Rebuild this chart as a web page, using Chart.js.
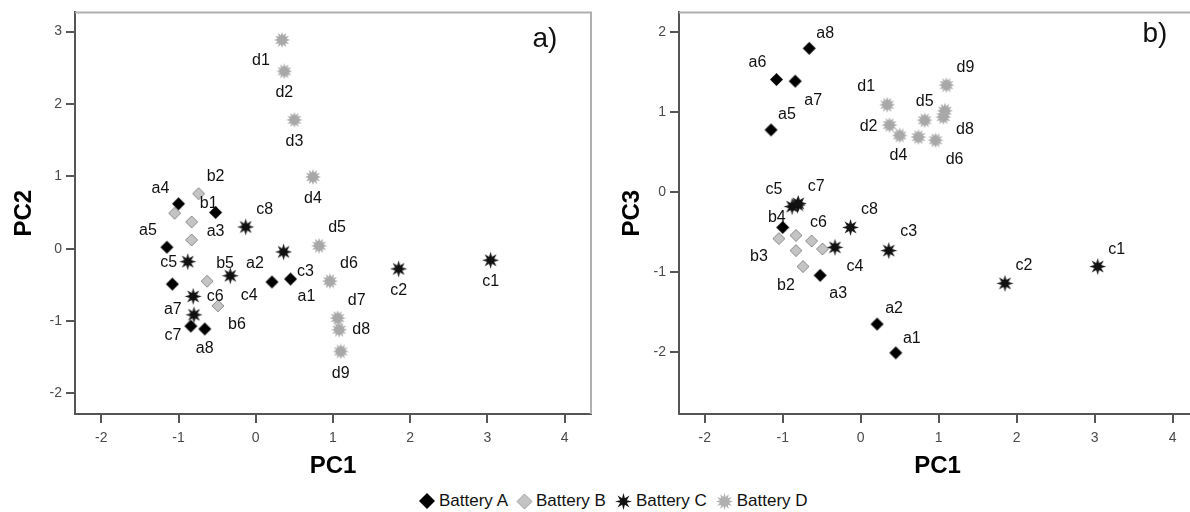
<!DOCTYPE html>
<html lang="en">
<head>
<meta charset="UTF-8">
<title>PCA score plots</title>
<script src="https://cdn.jsdelivr.net/npm/chart.js"></script>
<style>
    body {
        margin: 0;
        background: #ffffff;
        font-family: "Liberation Sans", Arial, sans-serif;
        overflow: hidden;
    }
    #wrap { position: relative; width: 1190px; height: 512px; overflow: hidden; }
    .panel { position: absolute; top: 0; width: 600px; height: 484px; }
    #legend {
        position: absolute; left: 418px; top: 491px;
        display: flex; align-items: center;
        font-size: 17px; color: #111; white-space: nowrap;
    }
    #legend .item { display: flex; align-items: center; margin-right: 8px; }
    #legend canvas { margin-right: 3px; }
</style>
</head>
<body>
<div id="wrap">
    <div class="panel" style="left:0"><canvas id="chartA"></canvas></div>
    <div class="panel" style="left:605px"><canvas id="chartB"></canvas></div>
    <div id="legend"></div>
</div>

<script>
    // scores (PC1 is shared by both panels)
    const seriesNames = ['Battery A', 'Battery B', 'Battery C', 'Battery D'];

    const idsA = ['a1', 'a2', 'a3', 'a4', 'a5', 'a6', 'a7', 'a8'];
    const pc1A = [0.45, 0.21, -0.52, -1.00, -1.15, -1.08, -0.84, -0.66];
    const pc2A = [-0.42, -0.46, 0.50, 0.62, 0.02, -0.49, -1.07, -1.11];
    const pc3A = [-2.01, -1.65, -1.04, -0.44, 0.78, 1.41, 1.39, 1.80];

    const idsB = ['b1', 'b2', 'b3', 'b4', 'b5', 'b6'];
    const pc1B = [-0.83, -0.74, -0.83, -1.05, -0.63, -0.49];
    const pc2B = [0.37, 0.76, 0.12, 0.49, -0.45, -0.79];
    const pc3B = [-0.54, -0.93, -0.73, -0.58, -0.61, -0.71];

    const idsC = ['c1', 'c2', 'c3', 'c4', 'c5', 'c6', 'c7', 'c8'];
    const pc1C = [3.04, 1.85, 0.36, -0.33, -0.88, -0.81, -0.80, -0.13];
    const pc2C = [-0.16, -0.28, -0.045, -0.375, -0.18, -0.66, -0.915, 0.30];
    const pc3C = [-0.93, -1.14, -0.73, -0.69, -0.18, -0.16, -0.14, -0.44];

    const idsD = ['d1', 'd2', 'd3', 'd4', 'd5', 'd6', 'd7', 'd8', 'd9'];
    const pc1D = [0.34, 0.37, 0.50, 0.74, 0.82, 0.96, 1.06, 1.08, 1.10];
    const pc2D = [2.885, 2.45, 1.78, 0.99, 0.04, -0.45, -0.96, -1.12, -1.42];
    const pc3D = [1.095, 0.84, 0.71, 0.69, 0.90, 0.65, 0.94, 1.02, 1.34];

    // where each point's name sits, relative to the marker (px)
    const labelPosA = {
        a1: [16, 18], a2: [-17, -18], a3: [0, 19], a4: [-18, -15], a5: [-19, -17], a7: [-18, -16], a8: [0, 20],
        b1: [17, -18], b2: [17, -17], b5: [18, -18], b6: [19, 19],
        c1: [0, 21], c2: [0, 22], c3: [22, 20], c4: [19, 20], c5: [-19, 1], c6: [22, 0], c7: [-21, 21], c8: [19, -17],
        d1: [-21, 21], d2: [0, 21], d3: [0, 22], d4: [0, 22], d5: [18, -18], d6: [19, -18], d7: [19, -18], d8: [22, 0], d9: [0, 22]
    };
    const labelPosB = {
        a1: [16, -14], a2: [17, -15], a3: [18, 18], a5: [16, -15], a6: [-19, -17], a7: [18, 19], a8: [16, -15],
        b2: [-17, 19], b3: [-37, 6], b4: [-2, -21],
        c1: [19, -17], c2: [19, -18], c3: [20, -19], c4: [20, 19], c5: [-18, -17], c6: [21, 18], c7: [18, -17], c8: [19, -18],
        d1: [-21, -18], d2: [-21, 2], d4: [-20, 19], d5: [0, -19], d6: [19, 19], d8: [20, 19], d9: [19, -18]
    };

    const FONT = '"Liberation Sans", Arial, sans-serif';

    function diamond(size, fill, stroke) {
        const c = document.createElement('canvas');
        c.width = c.height = size + 2;
        const g = c.getContext('2d');
        const m = (size + 2) / 2, r = size / 2;
        g.beginPath();
        g.moveTo(m, m - r); g.lineTo(m + r, m); g.lineTo(m, m + r); g.lineTo(m - r, m);
        g.closePath();
        g.fillStyle = fill;
        g.fill();
        if (stroke) { g.strokeStyle = stroke; g.lineWidth = 1; g.stroke(); }
        return c;
    }

    function star(size, spikes, innerRatio, color) {
        const c = document.createElement('canvas');
        c.width = c.height = size + 2;
        const g = c.getContext('2d');
        const m = (size + 2) / 2, R = size / 2, r = R * innerRatio;
        g.beginPath();
        for (let i = 0; i < spikes * 2; i++) {
            const ang = -Math.PI / 2 + i * Math.PI / spikes;
            const rad = i % 2 === 0 ? R : r;
            g.lineTo(m + rad * Math.cos(ang), m + rad * Math.sin(ang));
        }
        g.closePath();
        g.fillStyle = color;
        g.fill();
        return c;
    }

    const markers = [
        diamond(13, '#000000'),
        diamond(12, '#c4c4c4', '#8c8c8c'),
        star(17, 8, 0.45, '#111111'),
        star(16, 12, 0.58, '#a8a8a8')
    ];
    const legendMarkers = [
        diamond(16, '#000000'),
        diamond(15, '#c4c4c4', '#a0a0a0'),
        star(17, 8, 0.42, '#111111'),
        star(17, 12, 0.55, '#b0b0b0')
    ];

    function points(xs, ys) {
        return xs.map((x, i) => ({ x: x, y: ys[i] }));
    }

    const pointLabels = {
        id: 'pointLabels',
        afterDatasetsDraw(chart, args, opts) {
            const ctx = chart.ctx;
            ctx.save();
            ctx.font = '16px ' + FONT;
            ctx.fillStyle = '#111';
            ctx.textAlign = 'center';
            ctx.textBaseline = 'middle';
            chart.data.datasets.forEach((ds, i) => {
                const meta = chart.getDatasetMeta(i);
                ds.ids.forEach((id, j) => {
                    const off = opts.pos[id];
                    if (!off) return;
                    const p = meta.data[j];
                    ctx.fillText(id, p.x + off[0], p.y + off[1]);
                });
            });
            ctx.restore();
        }
    };

    // light top/right frame and the panel letter
    const frame = {
        id: 'frame',
        beforeDatasetsDraw(chart, args, opts) {
            const { ctx, chartArea: a } = chart;
            ctx.save();
            ctx.strokeStyle = '#b0b0b0';
            ctx.lineWidth = 2;
            ctx.beginPath();
            ctx.moveTo(a.left, a.top);
            ctx.lineTo(a.right, a.top);
            ctx.lineTo(a.right, a.bottom);
            ctx.stroke();
            ctx.font = '28px ' + FONT;
            ctx.fillStyle = '#111';
            ctx.textAlign = 'center';
            ctx.textBaseline = 'alphabetic';
            ctx.fillText(opts.letter, a.right + opts.dx, a.top + opts.dy);
            ctx.restore();
        }
    };

    function makeChart(id, ysA, ysB, ysC, ysD, cfg) {
        const ctx = document.getElementById(id).getContext('2d');
        return new Chart(ctx, {
            type: 'scatter',
            data: {
                datasets: [
                    { label: seriesNames[0], ids: idsA, data: points(pc1A, ysA), pointStyle: markers[0] },
                    { label: seriesNames[1], ids: idsB, data: points(pc1B, ysB), pointStyle: markers[1] },
                    { label: seriesNames[2], ids: idsC, data: points(pc1C, ysC), pointStyle: markers[2] },
                    { label: seriesNames[3], ids: idsD, data: points(pc1D, ysD), pointStyle: markers[3] }
                ]
            },
            options: {
                responsive: true,
                maintainAspectRatio: false,
                animation: false,
                layout: { padding: { left: 0, top: 10, right: 9, bottom: 0 } },
                scales: {
                    x: {
                        type: 'linear',
                        min: cfg.xMin, max: cfg.xMax,
                        afterFit: s => { s.height = 70; },
                        ticks: { stepSize: 1, includeBounds: false, padding: 7, color: '#4a4a4a', font: { family: FONT, size: 14 } },
                        grid: { drawOnChartArea: false, drawTicks: true, tickLength: 9, color: '#555', lineWidth: 2 },
                        border: { display: true, color: '#555', width: 2 },
                        title: { display: true, text: 'PC1', color: '#000', padding: { top: 0, bottom: 3 },
                                 font: { family: FONT, size: 24, weight: 'bold' } }
                    },
                    y: {
                        type: 'linear',
                        min: cfg.yMin, max: cfg.yMax,
                        afterFit: s => { s.width = cfg.yWidth; },
                        ticks: { stepSize: 1, includeBounds: false, padding: 4, color: '#4a4a4a', font: { family: FONT, size: 14 } },
                        grid: { drawOnChartArea: false, drawTicks: true, tickLength: 9, color: '#555', lineWidth: 2 },
                        border: { display: true, color: '#555', width: 2 },
                        title: { display: true, text: cfg.yTitle, color: '#000', padding: { top: cfg.yTitlePad, bottom: 0 },
                                 font: { family: FONT, size: 24, weight: 'bold' } }
                    }
                },
                plugins: {
                    legend: { display: false },
                    tooltip: { enabled: false },
                    pointLabels: { pos: cfg.labels },
                    frame: { letter: cfg.letter, dx: cfg.letterDx, dy: cfg.letterDy }
                }
            },
            plugins: [frame, pointLabels]
        });
    }

    makeChart('chartA', pc2A, pc2B, pc2C, pc2D, {
        xMin: -2.34, xMax: 4.34, yMin: -2.285, yMax: 3.265, yWidth: 75,
        yTitle: 'PC2', yTitlePad: 10, labels: labelPosA, letter: 'a)', letterDx: -46, letterDy: 35
    });
    makeChart('chartB', pc3A, pc3B, pc3C, pc3D, {
        xMin: -2.33, xMax: 4.30, yMin: -2.775, yMax: 2.25, yWidth: 74,
        yTitle: 'PC3', yTitlePad: 13, labels: labelPosB, letter: 'b)', letterDx: -41, letterDy: 30
    });

    // shared legend under both panels
    const legend = document.getElementById('legend');
    seriesNames.forEach((name, i) => {
        const item = document.createElement('div');
        item.className = 'item';
        item.appendChild(legendMarkers[i]);
        const span = document.createElement('span');
        span.textContent = name;
        item.appendChild(span);
        legend.appendChild(item);
    });
</script>
</body>
</html>
